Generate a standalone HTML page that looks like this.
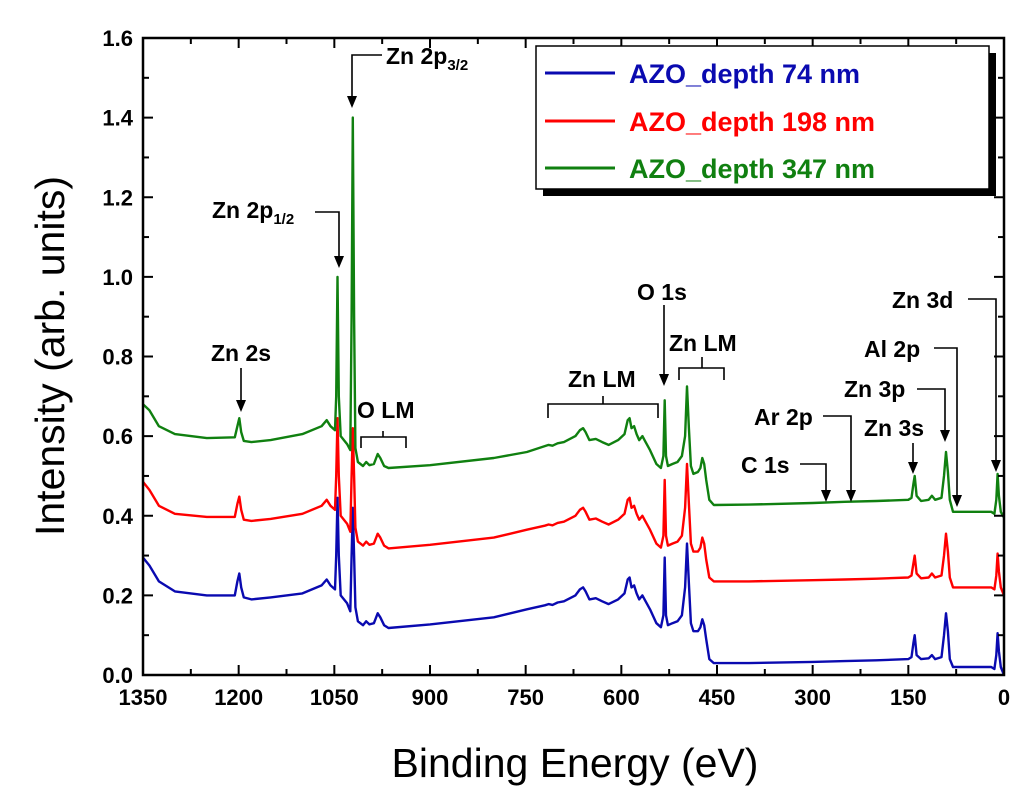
<!DOCTYPE html>
<html><head><meta charset="utf-8"><style>
body{margin:0;background:#fff;width:1024px;height:802px;overflow:hidden}
svg{display:block}
text{font-family:"Liberation Sans",Arial,sans-serif}
.t{font-weight:bold;font-size:22px;fill:#000}
.a{font-weight:bold;font-size:23px;fill:#000}
</style></head><body>
<svg id="chart" width="1024" height="802" viewBox="0 0 1024 802">
<g id="plot"></g>
<g id="axes"></g>
<g id="annot" stroke="#000" stroke-width="1.6" fill="none">
<polyline points="241,368 241,402"/>
<polyline points="315,212 339,212 339,258"/>
<polyline points="382,55 352,55 352,98"/>
<polyline points="361,448 361,437 406,437 406,448"/>
<line x1="383" y1="437" x2="383" y2="431"/>
<polyline points="548,418 548,404 658,404 658,418"/>
<line x1="603" y1="404" x2="603" y2="396"/>
<polyline points="664,305 664,376"/>
<polyline points="679,380 679,368 724,368 724,380"/>
<line x1="702" y1="368" x2="702" y2="357"/>
<polyline points="968,299 996,299 996,462"/>
<polyline points="934,348 957,348 957,497"/>
<polyline points="917,389 945,389 945,432"/>
<polyline points="823,416 851,416 851,492"/>
<polyline points="913,443 913,464"/>
<polyline points="800,464 826,464 826,492"/>
</g>
<g id="heads" fill="#000"></g>
<g id="labels">
<text class="a" x="211" y="361">Zn 2s</text>
<text class="a" x="212" y="218">Zn 2p<tspan font-size="15" dy="6">1/2</tspan></text>
<text class="a" x="386" y="64">Zn 2p<tspan font-size="15" dy="6">3/2</tspan></text>
<text class="a" x="357" y="418">O LM</text>
<text class="a" x="568" y="387">Zn LM</text>
<text class="a" x="637" y="300">O 1s</text>
<text class="a" x="669" y="351">Zn LM</text>
<text class="a" x="892" y="308">Zn 3d</text>
<text class="a" x="864" y="357">Al 2p</text>
<text class="a" x="844" y="397">Zn 3p</text>
<text class="a" x="754" y="425">Ar 2p</text>
<text class="a" x="864" y="436">Zn 3s</text>
<text class="a" x="741" y="473">C 1s</text>
</g>
<g id="legend">
<rect x="543" y="53" width="453" height="143" fill="#000"/>
<rect x="536" y="46" width="453" height="143" fill="#fff" stroke="#000" stroke-width="1.5"/>
<line x1="545" y1="73" x2="615" y2="73" stroke="#0a0ab0" stroke-width="3"/>
<text x="629" y="83" font-size="27" font-weight="bold" fill="#0a0ab0">AZO_depth 74 nm</text>
<line x1="545" y1="121" x2="615" y2="121" stroke="#ff0000" stroke-width="3"/>
<text x="629" y="131" font-size="27" font-weight="bold" fill="#ff0000">AZO_depth 198 nm</text>
<line x1="545" y1="168" x2="615" y2="168" stroke="#108010" stroke-width="3"/>
<text x="629" y="178" font-size="27" font-weight="bold" fill="#108010">AZO_depth 347 nm</text>
</g>
<text x="575" y="777" font-size="41" text-anchor="middle" fill="#000">Binding Energy (eV)</text>
<text transform="translate(64,356) rotate(-90)" font-size="41" text-anchor="middle" fill="#000">Intensity (arb. units)</text>
</svg>
<script>
const xTicks=[1350,1200,1050,900,750,600,450,300,150,0];
const yTicks=[0.0,0.2,0.4,0.6,0.8,1.0,1.2,1.4,1.6];
const seriesNames=["AZO_depth 74 nm","AZO_depth 198 nm","AZO_depth 347 nm"];
const green=[[1350,.68],[1340,.665],[1325,.625],[1300,.605],[1250,.595],[1206,.597],[1202,.625],[1199,.645],[1196,.61],[1192,.588],[1180,.585],[1150,.59],[1100,.605],[1070,.625],[1062,.64],[1056,.625],[1049,.615],[1047,.70],[1045,1.0],[1043,.70],[1040,.6],[1030,.58],[1025,.565],[1023,.9],[1021,1.40],[1019,.9],[1017,.57],[1013,.535],[1005,.525],[1000,.535],[995,.527],[988,.53],[982,.555],[978,.545],[972,.525],[965,.52],[900,.527],[800,.545],[748,.56],[720,.575],[714,.578],[708,.576],[700,.582],[690,.585],[672,.6],[665,.615],[660,.62],[656,.61],[650,.59],[640,.593],[630,.585],[620,.578],[605,.59],[595,.605],[590,.64],[587,.645],[584,.62],[580,.625],[576,.605],[572,.59],[567,.6],[562,.585],[555,.565],[545,.53],[538,.52],[534,.55],[532,.69],[530,.55],[527,.525],[520,.53],[512,.535],[505,.55],[500,.6],[497,.725],[494,.62],[491,.525],[487,.505],[480,.51],[476,.52],[473,.545],[470,.53],[467,.49],[462,.44],[455,.427],[400,.428],[300,.432],[250,.435],[200,.437],[150,.44],[145,.445],[142,.48],[140,.5],[137,.45],[130,.437],[118,.44],[113,.45],[108,.44],[98,.445],[94,.5],[91,.56],[88,.51],[85,.44],[80,.41],[50,.41],[20,.41],[15,.405],[12,.44],[10,.505],[8,.45],[5,.41],[0,.395]];
const red=[[1350,.485],[1340,.465],[1325,.425],[1300,.405],[1250,.397],[1206,.397],[1202,.43],[1199,.448],[1196,.415],[1192,.39],[1180,.387],[1150,.392],[1100,.405],[1070,.425],[1062,.44],[1056,.425],[1049,.415],[1047,.5],[1045,.645],[1043,.5],[1040,.4],[1030,.38],[1025,.36],[1023,.5],[1021,.62],[1019,.5],[1017,.37],[1013,.335],[1005,.325],[1000,.335],[995,.327],[988,.33],[982,.355],[978,.345],[972,.325],[965,.318],[900,.327],[800,.345],[748,.365],[720,.375],[714,.378],[708,.376],[700,.382],[690,.385],[672,.4],[665,.415],[660,.42],[656,.41],[650,.39],[640,.393],[630,.385],[620,.378],[605,.39],[595,.405],[590,.44],[587,.445],[584,.42],[580,.425],[576,.405],[572,.39],[567,.4],[562,.385],[555,.365],[545,.33],[538,.32],[534,.35],[532,.49],[530,.35],[527,.325],[520,.33],[512,.335],[505,.35],[500,.42],[497,.53],[494,.43],[491,.33],[487,.31],[480,.31],[476,.32],[473,.345],[470,.33],[467,.29],[462,.245],[455,.235],[400,.235],[300,.238],[250,.24],[200,.242],[150,.245],[145,.25],[142,.28],[140,.30],[137,.255],[130,.243],[118,.245],[113,.255],[108,.245],[98,.25],[94,.3],[91,.355],[88,.31],[85,.245],[80,.22],[50,.22],[20,.22],[15,.215],[12,.25],[10,.305],[8,.26],[5,.22],[0,.2]];
const blue=[[1350,.295],[1340,.275],[1325,.235],[1300,.21],[1250,.2],[1206,.2],[1202,.235],[1199,.255],[1196,.22],[1192,.195],[1180,.19],[1150,.195],[1100,.205],[1070,.225],[1062,.24],[1056,.225],[1049,.215],[1047,.3],[1045,.445],[1043,.3],[1040,.2],[1030,.18],[1025,.16],[1023,.3],[1021,.42],[1019,.3],[1017,.17],[1013,.135],[1005,.125],[1000,.135],[995,.127],[988,.13],[982,.155],[978,.145],[972,.125],[965,.118],[900,.127],[800,.145],[748,.165],[720,.175],[714,.178],[708,.176],[700,.182],[690,.185],[672,.2],[665,.215],[660,.22],[656,.21],[650,.19],[640,.193],[630,.185],[620,.178],[605,.19],[595,.205],[590,.24],[587,.245],[584,.22],[580,.225],[576,.205],[572,.19],[567,.2],[562,.185],[555,.165],[545,.13],[538,.12],[534,.15],[532,.295],[530,.15],[527,.125],[520,.13],[512,.135],[505,.15],[500,.22],[497,.33],[494,.23],[491,.13],[487,.11],[480,.11],[476,.12],[473,.14],[470,.125],[467,.09],[462,.04],[455,.03],[400,.03],[300,.033],[250,.035],[200,.037],[150,.04],[145,.045],[142,.08],[140,.10],[137,.05],[130,.04],[118,.042],[113,.05],[108,.04],[98,.045],[94,.1],[91,.155],[88,.11],[85,.04],[80,.02],[50,.02],[20,.02],[15,.015],[12,.05],[10,.105],[8,.06],[5,.02],[0,.0]];
const L=143,R=1004,T=38,B=675,XMAX=1350,XMIN=0,YMIN=0,YMAX=1.6;
function xs(e){return L+(XMAX-e)/(XMAX-XMIN)*(R-L);}
function ys(v){return B-(v-YMIN)/(YMAX-YMIN)*(B-T);}
const NS="http://www.w3.org/2000/svg";
const plot=document.getElementById('plot'),axes=document.getElementById('axes'),heads=document.getElementById('heads');
function mk(tag,attrs,parent){const el=document.createElementNS(NS,tag);for(const k in attrs)el.setAttribute(k,attrs[k]);parent.appendChild(el);return el;}
[[241,412],[339,268],[352,108],[664,386],[996,472],[957,507],[945,442],[851,502],[913,474],[826,502]].forEach(h=>{
  const p=mk('polygon',{points:(h[0]-5)+','+(h[1]-12)+' '+(h[0]+5)+','+(h[1]-12)+' '+h[0]+','+h[1]},heads);
  
  
});
[[blue,'#0a0ab0','series-74nm'],[red,'#ff0000','series-198nm'],[green,'#108010','series-347nm']].forEach(s=>{
  const d=s[0].map((p,i)=>(i?'L':'M')+xs(p[0]).toFixed(1)+','+ys(p[1]).toFixed(1)).join(' ');
  const p=mk('path',{d:d,fill:'none',stroke:s[1],'stroke-width':2.4,'stroke-linejoin':'round'},plot);
  
  
});
const frame=mk('rect',{x:L,y:T,width:R-L,height:B-T,fill:'none',stroke:'#000','stroke-width':2.5},axes);


for(let e=XMAX;e>=XMIN;e-=75){const x=xs(e),len=(e%150===0)?10:6;
  mk('line',{x1:x,y1:B,x2:x,y2:B-len,stroke:'#000','stroke-width':2},axes);
  mk('line',{x1:x,y1:T,x2:x,y2:T+len,stroke:'#000','stroke-width':2},axes);}
xTicks.forEach(e=>{const t=mk('text',{x:xs(e),y:B+30,'text-anchor':'middle',class:'t'},axes);t.textContent=e;
  
  });
for(let i=0;i<=16;i++){const v=i/10,y=ys(v),len=(i%2===0)?10:6;
  mk('line',{x1:L,y1:y,x2:L+len,y2:y,stroke:'#000','stroke-width':2},axes);
  mk('line',{x1:R,y1:y,x2:R-len,y2:y,stroke:'#000','stroke-width':2},axes);}
yTicks.forEach(v=>{const t=mk('text',{x:L-10,y:ys(v)+8,'text-anchor':'end',class:'t'},axes);t.textContent=v.toFixed(1);
  
  });
</script>
</body></html>
